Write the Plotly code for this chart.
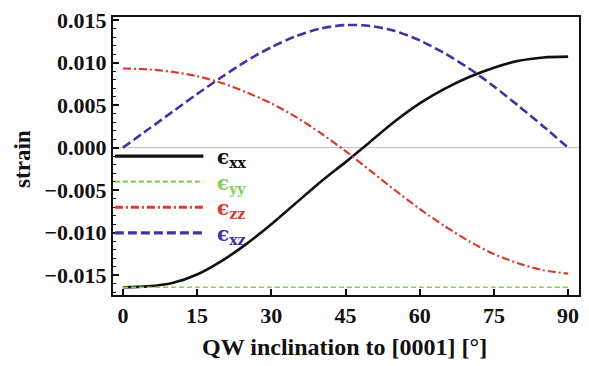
import plotly.graph_objects as go

# Inclination angle of the quantum well relative to [0001], degrees
angle = [0, 5, 10, 15, 20, 25, 30, 35, 40, 45, 50, 55, 60, 65, 70, 75, 80, 85, 90]

# Strain tensor components versus inclination
eps_xx = [-0.0164, -0.0163, -0.0159, -0.0149, -0.0133, -0.0113, -0.0090, -0.0065, -0.0040,
          -0.0017, 0.0007, 0.0031, 0.0052, 0.0069, 0.0083, 0.0094, 0.0102, 0.0106, 0.0107]
eps_yy = [-0.0164] * 19
eps_zz = [0.0093, 0.0092, 0.0089, 0.0084, 0.0076, 0.0065, 0.0052, 0.0036, 0.0017,
          -0.0004, -0.0027, -0.0050, -0.0072, -0.0092, -0.0110, -0.0125, -0.0136, -0.0144, -0.0148]
eps_xz = [0.0, 0.0021, 0.0042, 0.0063, 0.0083, 0.0102, 0.0118, 0.0131, 0.0140,
          0.0144, 0.0143, 0.0137, 0.0126, 0.0111, 0.0093, 0.0072, 0.0049, 0.0025, 0.0]

x_ticks = [0, 15, 30, 45, 60, 75, 90]
y_ticks = [-0.015, -0.010, -0.005, 0.000, 0.005, 0.010, 0.015]

series = [
    ("xx", eps_xx, "#111111", 2.6, "solid"),
    ("yy", eps_yy, "#86cf52", 1.6, "5px,3px"),
    ("zz", eps_zz, "#d63b2e", 2.2, "8px,3px,2px,3px"),
    ("xz", eps_xz, "#4a2ea3", 2.6, "9px,4px"),
]
legend_y = [-0.0010, -0.0040, -0.0070, -0.0100]

SERIF = "Liberation Serif"

fig = go.Figure()

# zero reference line
fig.add_shape(type="line", xref="paper", yref="y", x0=0, x1=1, y0=0, y1=0,
              line=dict(color="#bdbdbd", width=1), layer="below")

for name, vals, color, width, dash in series:
    fig.add_trace(go.Scatter(
        x=angle, y=vals, mode="lines", name=name,
        line=dict(color=color, width=width, dash=dash, shape="spline", smoothing=0.8),
        showlegend=False, hoverinfo="skip",
    ))

# hand-placed key inside the frame
for (name, vals, color, width, dash), ly in zip(series, legend_y):
    fig.add_shape(type="line", xref="paper", yref="y", x0=0.004, x1=0.194, y0=ly, y1=ly,
                  line=dict(color=color, width=width + 0.6, dash=dash))
    fig.add_annotation(xref="paper", yref="y", x=0.218, y=ly, xanchor="left", yanchor="middle",
                       yshift=-2, showarrow=False, text=f"<b>ϵ<sub>{name}</sub></b>",
                       font=dict(family="DejaVu Serif", size=20, color=color))

# axis titles
fig.add_annotation(xref="paper", yref="paper", x=0.496, y=-0.187, xanchor="center",
                   yanchor="middle", showarrow=False,
                   text="<b>QW inclination to [0001] [°]</b>",
                   font=dict(family=SERIF, size=24, color="#111111"))
fig.add_annotation(xref="paper", yref="paper", x=-0.194, y=0.488, xanchor="center",
                   yanchor="middle", showarrow=False, textangle=-90,
                   text="<b>strain</b>",
                   font=dict(family=SERIF, size=23, color="#111111"))

fig.update_xaxes(
    range=[-2.0, 92.2], tickvals=x_ticks, ticktext=[str(v) for v in x_ticks],
    ticks="inside", ticklen=6, tickwidth=1.5, tickcolor="#111111",
    showline=True, linewidth=2, linecolor="#111111", mirror=True,
    showgrid=False, zeroline=False,
    tickfont=dict(family=SERIF, size=22, color="#111111", weight="bold"),
)
fig.update_yaxes(
    range=[-0.01731, 0.01535], tickvals=y_ticks, tickformat=".3f",
    ticks="inside", ticklen=6, tickwidth=1.5, tickcolor="#111111",
    minor=dict(ticks="inside", ticklen=3, tickwidth=1, tickcolor="#111111", dtick=0.001),
    showline=True, linewidth=2, linecolor="#111111", mirror=True,
    showgrid=False, zeroline=False,
    tickfont=dict(family=SERIF, size=22, color="#111111", weight="bold"),
)

fig.update_layout(
    width=589, height=366,
    margin=dict(l=113, r=8, t=12, b=71),
    paper_bgcolor="white", plot_bgcolor="white",
)

fig.write_html("out.html")
